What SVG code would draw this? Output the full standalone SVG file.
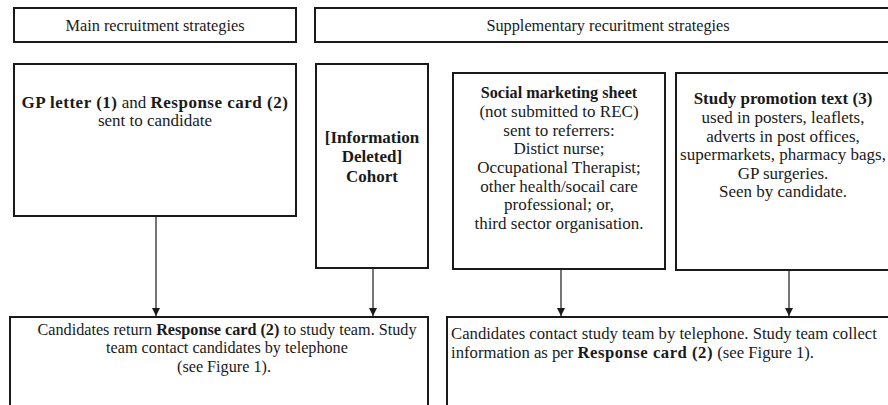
<svg xmlns="http://www.w3.org/2000/svg" width="888" height="405" viewBox="0 0 888 405">
<defs>
<style>
.box{fill:#fff;stroke:#1a1a1a;stroke-width:2}
.t{font-family:'Liberation Serif','Times New Roman',serif;font-size:17px;fill:#1a1a1a}
.h{font-size:16.3px}
.c{text-anchor:middle}
.b{font-weight:bold}
.s{letter-spacing:0.5px}
.con{stroke:#1a1a1a;stroke-width:1.2;fill:none;marker-end:url(#ah)}
</style>
<marker id="ah" viewBox="0 0 10 10" refX="10" refY="5" markerWidth="8" markerHeight="8" markerUnits="userSpaceOnUse" orient="auto">
<path d="M0,0 L10,5 L0,10 z" fill="#1a1a1a"/>
</marker>
</defs>
<rect width="888" height="405" fill="#fff"/>
<g font-family="'Liberation Serif', 'Times New Roman', serif">
<g id="main-header">
<rect class="box" x="14" y="8" width="282" height="34"/>
<text class="t h c" x="155" y="31">Main recruitment strategies</text>
</g>
<g id="supp-header">
<rect class="box" x="315" y="8" width="590" height="34"/>
<text class="t h c" x="608" y="31">Supplementary recuritment strategies</text>
</g>
<g id="gp-letter">
<rect class="box" x="14" y="64" width="282" height="152"/>
<text class="t c" x="155" y="108"><tspan class="b s">GP letter (1)</tspan> and <tspan class="b s">Response card (2)</tspan></text>
<text class="t c" x="155" y="126">sent to candidate</text>
</g>
<g id="info-deleted">
<rect class="box" x="316" y="64" width="112" height="204"/>
<text class="t c b" x="372" y="143">[Information</text>
<text class="t c b" x="372" y="162">Deleted]</text>
<text class="t c b" x="372" y="182">Cohort</text>
</g>
<g id="social-marketing">
<rect class="box" x="453" y="73" width="212" height="196"/>
<text class="t c b" x="559" y="98" style="font-size:16.2px">Social marketing sheet</text>
<text class="t c" x="559" y="117">(not submitted to REC)</text>
<text class="t c" x="559" y="136">sent to referrers:</text>
<text class="t c" x="559" y="154">Distict nurse;</text>
<text class="t c" x="559" y="173">Occupational Therapist;</text>
<text class="t c" x="559" y="192">other health/socail care</text>
<text class="t c" x="559" y="210">professional; or,</text>
<text class="t c" x="559" y="229">third sector organisation.</text>
</g>
<g id="study-promotion">
<rect class="box" x="676" y="73" width="230" height="197"/>
<text class="t c b" x="783" y="104">Study promotion text (3)</text>
<text class="t c" x="783" y="123">used in posters, leaflets,</text>
<text class="t c" x="783" y="142">adverts in post offices,</text>
<text class="t c" x="783" y="160">supermarkets, pharmacy bags,</text>
<text class="t c" x="783" y="179">GP surgeries.</text>
<text class="t c" x="783" y="197">Seen by candidate.</text>
</g>
<g id="return-card">
<rect class="box" x="10" y="317" width="418" height="100"/>
<text class="t c" x="227" y="335" style="font-size:16.2px">Candidates return <tspan class="b">Response card (2)</tspan> to study team. Study</text>
<text class="t c" x="227" y="353" style="font-size:16.2px">team contact candidates by telephone</text>
<text class="t c" x="224" y="372" style="font-size:16.2px">(see Figure 1).</text>
</g>
<g id="contact-team">
<rect class="box" x="447" y="317" width="460" height="100"/>
<text class="t" x="451" y="339" style="font-size:16.7px">Candidates contact study team by telephone. Study team collect</text>
<text class="t" x="451" y="358" style="font-size:16.7px">information as per <tspan class="b s">Response card (2)</tspan> (see Figure 1).</text>
</g>
</g>
<g id="connectors">
<line class="con" x1="156" y1="217" x2="156" y2="316"/>
<line class="con" x1="373" y1="269" x2="373" y2="316"/>
<line class="con" x1="561" y1="270" x2="561" y2="316"/>
<line class="con" x1="789" y1="271" x2="789" y2="316"/>
</g>
</svg>
